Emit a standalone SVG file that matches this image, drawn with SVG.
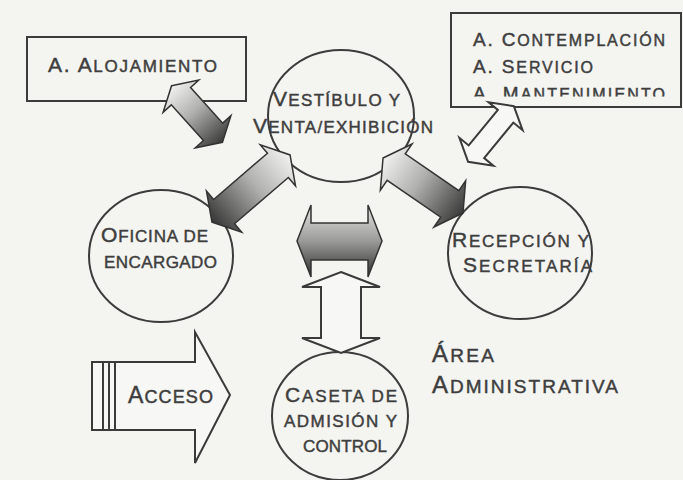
<svg xmlns="http://www.w3.org/2000/svg" width="683" height="480" viewBox="0 0 683 480">
<style>
.ln{fill:none;stroke:#3c3c3c;stroke-width:2}
.bx{fill:#f4f4f1;stroke:#3c3c3c;stroke-width:2}
.t{font-family:"Liberation Sans",Arial,sans-serif;fill:#3e3e3e;stroke:#3e3e3e;stroke-width:0.45}
.ga{stroke:#333;stroke-width:1.5;stroke-linejoin:miter}
.wa{fill:#f7f7f5;stroke:#3a3a3a;stroke-width:2;stroke-linejoin:miter}
</style>
<defs>
<linearGradient id="gLD" x1="0" y1="0" x2="1" y2="0">
<stop offset="0" stop-color="#f2f2f0"/>
<stop offset="0.45" stop-color="#b0b0ae"/>
<stop offset="1" stop-color="#3a3a3a"/>
</linearGradient>
<linearGradient id="gDL" x1="0" y1="0" x2="1" y2="0">
<stop offset="0" stop-color="#363636"/>
<stop offset="0.55" stop-color="#b0b0ae"/>
<stop offset="1" stop-color="#f2f2f0"/>
</linearGradient>
<linearGradient id="gV" x1="0" y1="0" x2="0" y2="1">
<stop offset="0" stop-color="#e6e6e4"/>
<stop offset="0.5" stop-color="#9a9a98"/>
<stop offset="1" stop-color="#2e2e2e"/>
</linearGradient>
<clipPath id="clipR"><rect x="452" y="14" width="230" height="82.5"/></clipPath>
</defs>
<rect x="0" y="0" width="683" height="480" fill="#f4f4f1"/>

<g id="alojamiento">
<rect class="bx" x="27" y="37" width="219" height="64"/>
<text class="t" x="48" y="72" textLength="169" lengthAdjust="spacing"><tspan font-size="21">A. A</tspan><tspan font-size="17">LOJAMIENTO</tspan></text>
</g>

<g id="otras-areas">
<rect class="bx" x="451" y="13" width="230" height="94"/>
<text class="t" x="473" y="46" textLength="192" lengthAdjust="spacing"><tspan font-size="19">A. C</tspan><tspan font-size="16">ONTEMPLACIÓN</tspan></text>
<text class="t" x="473" y="73" textLength="120" lengthAdjust="spacing"><tspan font-size="19">A. S</tspan><tspan font-size="16">ERVICIO</tspan></text>
<text class="t" x="473" y="100" textLength="192" lengthAdjust="spacing" clip-path="url(#clipR)"><tspan font-size="19">A. M</tspan><tspan font-size="16">ANTENIMIENTO</tspan></text>
</g>

<g id="vestibulo">
<ellipse class="ln" cx="341" cy="116" rx="73" ry="66"/>
</g>
<g id="oficina">
<ellipse class="ln" cx="161" cy="256" rx="72" ry="66"/>
</g>
<g id="recepcion">
<ellipse class="ln" cx="520" cy="253" rx="72" ry="66"/>
</g>
<g id="caseta">
<ellipse class="ln" cx="340" cy="416" rx="68" ry="64"/>
</g>

<g id="connectors">
<polygon class="ga" fill="url(#gLD)" transform="translate(197,114) rotate(48)" points="-38,0 -24,-24 -24,-13 24,-13 24,-24 38,0 24,24 24,13 -24,13 -24,24"/>
<polygon class="ga" fill="url(#gDL)" transform="translate(251,188.5) rotate(-40.7)" points="-51.5,0 -35.5,-27 -35.5,-16 35.5,-16 35.5,-27 51.5,0 35.5,27 35.5,16 -35.5,16 -35.5,27"/>
<polygon class="ga" fill="url(#gLD)" transform="translate(423,185.5) rotate(34.5)" points="-48.5,0 -32.5,-28 -32.5,-16 32.5,-16 32.5,-28 48.5,0 32.5,28 32.5,16 -32.5,16 -32.5,28"/>
<polygon class="ga" fill="url(#gV)" points="297,241 311,205 311,223 368,223 368,205 382,241 368,277 368,260 311,260 311,277"/>
<polygon class="wa" points="341,272 380,287 361,287 361,338 380,338 341,353 302,338 321,338 321,287 302,287"/>
<polygon class="wa" transform="translate(491,134) rotate(-50.6)" points="-36,0 -23,-22 -23,-10 23,-10 23,-22 36,0 23,22 23,10 -23,10 -23,22"/>
</g>

<g id="acceso">
<polygon class="wa" points="115,362 195,362 195,332 230,395 195,463 195,430 115,430"/>
<rect class="wa" x="92" y="362" width="23" height="68"/>
<line class="ln" x1="103" y1="362" x2="103" y2="430"/>
<line class="ln" x1="109" y1="362" x2="109" y2="430"/>
<text class="t" x="128" y="403" textLength="85" lengthAdjust="spacing"><tspan font-size="23">A</tspan><tspan font-size="18">CCESO</tspan></text>
</g>

<g id="labels">
<text class="t" x="273" y="106" textLength="127" lengthAdjust="spacing"><tspan font-size="21">V</tspan><tspan font-size="17">ESTÍBULO Y</tspan></text>
<text class="t" x="253" y="133" textLength="180" lengthAdjust="spacing"><tspan font-size="21">V</tspan><tspan font-size="17">ENTA/EXHIBICIÓN</tspan></text>
<text class="t" x="101" y="242" textLength="107" lengthAdjust="spacing"><tspan font-size="21">O</tspan><tspan font-size="17">FICINA DE</tspan></text>
<text class="t" x="104" y="268" textLength="113" lengthAdjust="spacing" font-size="17">ENCARGADO</text>
<text class="t" x="452" y="247" textLength="137" lengthAdjust="spacing"><tspan font-size="21">R</tspan><tspan font-size="17">ECEPCIÓN Y</tspan></text>
<text class="t" x="463" y="272" textLength="129" lengthAdjust="spacing"><tspan font-size="21">S</tspan><tspan font-size="17">ECRETARÍA</tspan></text>
<text class="t" x="285" y="402" textLength="112" lengthAdjust="spacing"><tspan font-size="21">C</tspan><tspan font-size="17">ASETA DE</tspan></text>
<text class="t" x="284" y="427" textLength="113" lengthAdjust="spacing" font-size="17">ADMISIÓN Y</text>
<text class="t" x="303" y="452" textLength="84" lengthAdjust="spacing" font-size="17">CONTROL</text>
<text class="t" x="432" y="362" textLength="62" lengthAdjust="spacing"><tspan font-size="24">Á</tspan><tspan font-size="19">REA</tspan></text>
<text class="t" x="432" y="393" textLength="186" lengthAdjust="spacing"><tspan font-size="24">A</tspan><tspan font-size="19">DMINISTRATIVA</tspan></text>
</g>
</svg>
